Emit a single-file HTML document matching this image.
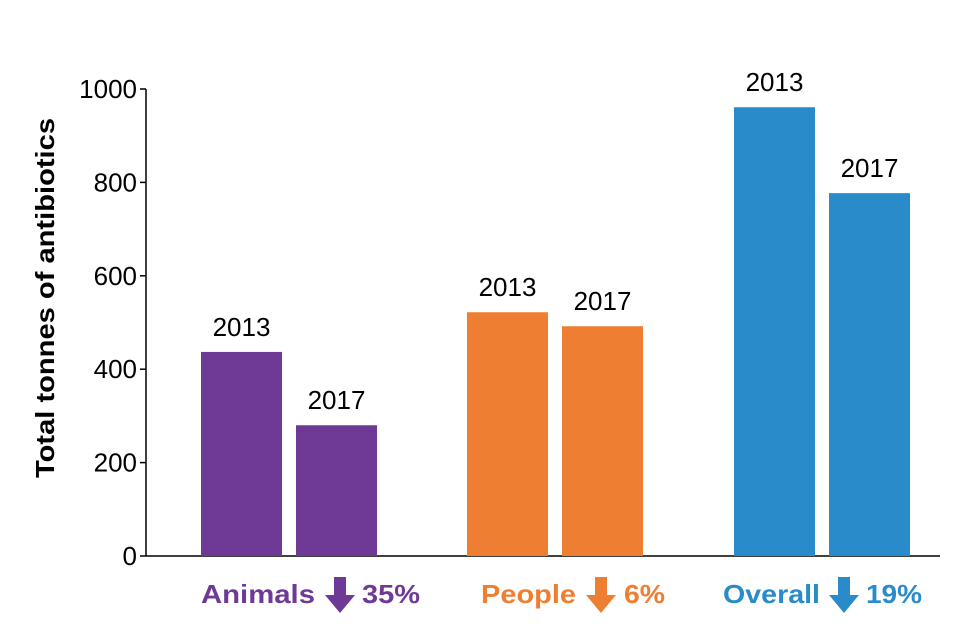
<!DOCTYPE html>
<html><head><meta charset="utf-8"><style>
body{margin:0;background:#fff}
svg{display:block;font-family:"Liberation Sans",Arial,sans-serif}
</style></head><body>
<svg id="c" width="960" height="640"></svg>
<script>
const groups=["Animals","People","Overall"];
const changes=["35%","6%","19%"];
const colors=["#6f3996","#ee7f32","#2a8bcb"];
const years=["2013","2017"];
const values2013=[437,522,961];
const values2017=[280,492,777];
const ticks=[0,200,400,600,800,1000];
const svg=document.getElementById('c');
const NS="http://www.w3.org/2000/svg";
const y0=556,y1=89,ax=146;
const yS=v=>y0-(v/1000)*(y0-y1);
const groupX=[201,467,734];
const labelLayout=[[201,114,325,362,58],[481,95,586,624,41],[723,97,829,866,56]];
function mk(t,a,txt){const e=document.createElementNS(NS,t);for(const k in a)e.setAttribute(k,a[k]);if(txt!==undefined)e.textContent=txt;svg.appendChild(e);return e;}
ticks.forEach(t=>{
 const l=mk('line',{x1:ax-6,x2:ax,y1:yS(t),y2:yS(t),stroke:'#000','stroke-width':1.5});
 
 
 const tx=mk('text',{x:ax-9,y:yS(t)+9,'text-anchor':'end','font-size':26},t);
 
 
});
const ya=mk('line',{x1:ax,x2:ax,y1:y1,y2:y0,stroke:'#000','stroke-width':1.5});


const xa=mk('line',{x1:ax,x2:940,y1:y0,y2:y0,stroke:'#000','stroke-width':1.5});


const yt=mk('text',{x:0,y:0,transform:'translate(54,298) rotate(-90)','text-anchor':'middle','font-size':26,'font-weight':'bold',textLength:360,lengthAdjust:'spacingAndGlyphs'},'Total tonnes of antibiotics');


const bw=81,gap=14;
groups.forEach((g,i)=>{
 [values2013[i],values2017[i]].forEach((v,j)=>{
  const x=groupX[i]+j*(bw+gap);
  const r=mk('rect',{x:x,y:yS(v),width:bw,height:y0-yS(v),fill:colors[i]});
  
  
  const t=mk('text',{x:x+bw/2,y:yS(v)-16,'text-anchor':'middle','font-size':26},years[j]);
  
  
 });
 const L=labelLayout[i];
 const name=mk('text',{x:L[0],y:603,'font-size':26,'font-weight':'bold',fill:colors[i],textLength:L[1],lengthAdjust:'spacingAndGlyphs'},g);
 
 
 const cx=L[2]+15;
 const ar=mk('path',{d:`M${cx-6} 577 h12 v18 h9 l-15 18 l-15 -18 h9 z`,fill:colors[i]});
 
 
 const pc=mk('text',{x:L[3],y:603,'font-size':26,'font-weight':'bold',fill:colors[i],textLength:L[4],lengthAdjust:'spacingAndGlyphs'},changes[i]);
 
 
});
</script>
</body></html>
